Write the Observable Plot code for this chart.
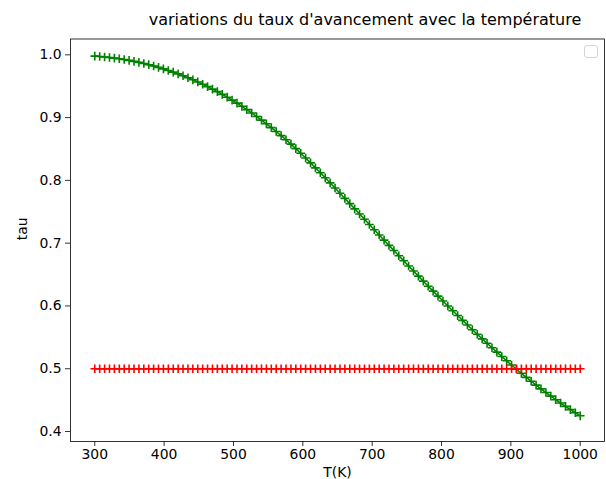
<!DOCTYPE html>
<html>
<head>
<meta charset="utf-8">
<script src="https://cdn.jsdelivr.net/npm/d3@7"></script>
<script src="https://cdn.jsdelivr.net/npm/@observablehq/plot@0.6"></script>
<style>
  html, body { margin: 0; padding: 0; background: white; }
  #wrap { position: relative; width: 606px; height: 479px; overflow: hidden; font-family: "DejaVu Sans", sans-serif; }
  #title { height: 30px; box-sizing: border-box; padding-top: 12px; padding-left: 124px; padding-right: 0px;
           text-align: center; font-size: 16px; line-height: 1; color: black; white-space: nowrap; }
  #legend { position: absolute; left: 584px; top: 45px; width: 12px; height: 11px;
            border: 1px solid #d4d4d4; border-radius: 3px; background: white; }
</style>
</head>
<body>
<div id="wrap">
  <div id="title">variations du taux d'avancement avec la température</div>
  <div id="chart"></div>
  <div id="legend"></div>
</div>
<script>
const T = [300, 307.07, 314.14, 321.21, 328.28, 335.35, 342.42, 349.49, 356.57, 363.64,
  370.71, 377.78, 384.85, 391.92, 398.99, 406.06, 413.13, 420.2, 427.27, 434.34,
  441.41, 448.48, 455.56, 462.63, 469.7, 476.77, 483.84, 490.91, 497.98, 505.05,
  512.12, 519.19, 526.26, 533.33, 540.4, 547.47, 554.55, 561.62, 568.69, 575.76,
  582.83, 589.9, 596.97, 604.04, 611.11, 618.18, 625.25, 632.32, 639.39, 646.46,
  653.54, 660.61, 667.68, 674.75, 681.82, 688.89, 695.96, 703.03, 710.1, 717.17,
  724.24, 731.31, 738.38, 745.45, 752.53, 759.6, 766.67, 773.74, 780.81, 787.88,
  794.95, 802.02, 809.09, 816.16, 823.23, 830.3, 837.37, 844.44, 851.52, 858.59,
  865.66, 872.73, 879.8, 886.87, 893.94, 901.01, 908.08, 915.15, 922.22, 929.29,
  936.36, 943.43, 950.51, 957.58, 964.65, 971.72, 978.79, 985.86, 992.93, 1000];

const tau = [0.998, 0.9974, 0.9966, 0.9958, 0.9948, 0.9937, 0.9925, 0.9911, 0.9896, 0.988,
  0.9862, 0.9843, 0.9822, 0.98, 0.9776, 0.9751, 0.9724, 0.9696, 0.9666, 0.9635,
  0.9602, 0.9568, 0.9532, 0.9494, 0.9454, 0.9413, 0.937, 0.9325, 0.9278, 0.923,
  0.918, 0.9127, 0.9074, 0.9018, 0.896, 0.8901, 0.884, 0.8778, 0.8713, 0.8647,
  0.8578, 0.8506, 0.8432, 0.8356, 0.8279, 0.82, 0.8121, 0.8041, 0.796, 0.7878,
  0.7796, 0.7713, 0.763, 0.7547, 0.7464, 0.7381, 0.7297, 0.7214, 0.7131, 0.7048,
  0.6965, 0.6883, 0.68, 0.6719, 0.6637, 0.6556, 0.6475, 0.6395, 0.6315, 0.6236,
  0.6157, 0.6078, 0.6, 0.5923, 0.5847, 0.5771, 0.5696, 0.5622, 0.5549, 0.5476,
  0.5405, 0.5334, 0.5264, 0.5194, 0.5126, 0.5059, 0.4992, 0.4927, 0.4863, 0.48,
  0.4739, 0.4679, 0.4621, 0.4564, 0.4507, 0.4454, 0.4401, 0.4349, 0.4299, 0.425];

const seuil = [0.5, 0.5, 0.5, 0.5, 0.5, 0.5, 0.5, 0.5, 0.5, 0.5,
  0.5, 0.5, 0.5, 0.5, 0.5, 0.5, 0.5, 0.5, 0.5, 0.5,
  0.5, 0.5, 0.5, 0.5, 0.5, 0.5, 0.5, 0.5, 0.5, 0.5,
  0.5, 0.5, 0.5, 0.5, 0.5, 0.5, 0.5, 0.5, 0.5, 0.5,
  0.5, 0.5, 0.5, 0.5, 0.5, 0.5, 0.5, 0.5, 0.5, 0.5,
  0.5, 0.5, 0.5, 0.5, 0.5, 0.5, 0.5, 0.5, 0.5, 0.5,
  0.5, 0.5, 0.5, 0.5, 0.5, 0.5, 0.5, 0.5, 0.5, 0.5,
  0.5, 0.5, 0.5, 0.5, 0.5, 0.5, 0.5, 0.5, 0.5, 0.5,
  0.5, 0.5, 0.5, 0.5, 0.5, 0.5, 0.5, 0.5, 0.5, 0.5,
  0.5, 0.5, 0.5, 0.5, 0.5, 0.5, 0.5, 0.5, 0.5, 0.5];

const xTicks = [300, 400, 500, 600, 700, 800, 900, 1000];
const yTicks = [0.4, 0.5, 0.6, 0.7, 0.8, 0.9, 1.0];
const xLabel = "T(K)";
const yLabel = "tau";

const courbe = T.map((t, i) => ({T: t, tau: tau[i]}));
const ligne = T.map((t, i) => ({T: t, tau: seuil[i]}));

const chart = Plot.plot({
  width: 606,
  height: 449,
  marginTop: 8.5,
  marginBottom: 38,
  marginLeft: 70,
  marginRight: 2,
  style: {fontFamily: "DejaVu Sans", fontSize: "13.9px", background: "white", color: "black", overflow: "visible"},
  x: {domain: [265, 1035], label: null},
  y: {domain: [0.3841, 1.0252], label: null},
  marks: [
    Plot.line(courbe, {x: "T", y: "tau", stroke: "#008000", strokeWidth: 1.5}),
    Plot.dot(courbe, {x: "T", y: "tau", symbol: "plus", stroke: "#008000", r: 2.9, strokeWidth: 1.6}),
    Plot.line(ligne, {x: "T", y: "tau", stroke: "#ff0000", strokeWidth: 1.5}),
    Plot.dot(ligne, {x: "T", y: "tau", symbol: "plus", stroke: "#ff0000", r: 2.9, strokeWidth: 1.6}),
    Plot.frame({stroke: "black", strokeWidth: 0.8}),
    Plot.axisX({ticks: xTicks, tickSize: 5, tickPadding: 3, fontSize: 13.9, tickFormat: d => String(d), label: null, stroke: "black", strokeWidth: 0.8}),
    Plot.axisY({ticks: yTicks, tickSize: 5, tickPadding: 4, fontSize: 13.9, tickFormat: d3.format(".1f"), label: null, stroke: "black", strokeWidth: 0.8}),
    Plot.text([xLabel], {frameAnchor: "bottom", dy: 35, text: d => d, fontSize: 13.9, fill: "black"}),
    Plot.text([yLabel], {frameAnchor: "left", dx: -48, rotate: -90, text: d => d, fontSize: 13.9, fill: "black"})
  ]
});
document.getElementById("chart").appendChild(chart);
</script>
</body>
</html>
